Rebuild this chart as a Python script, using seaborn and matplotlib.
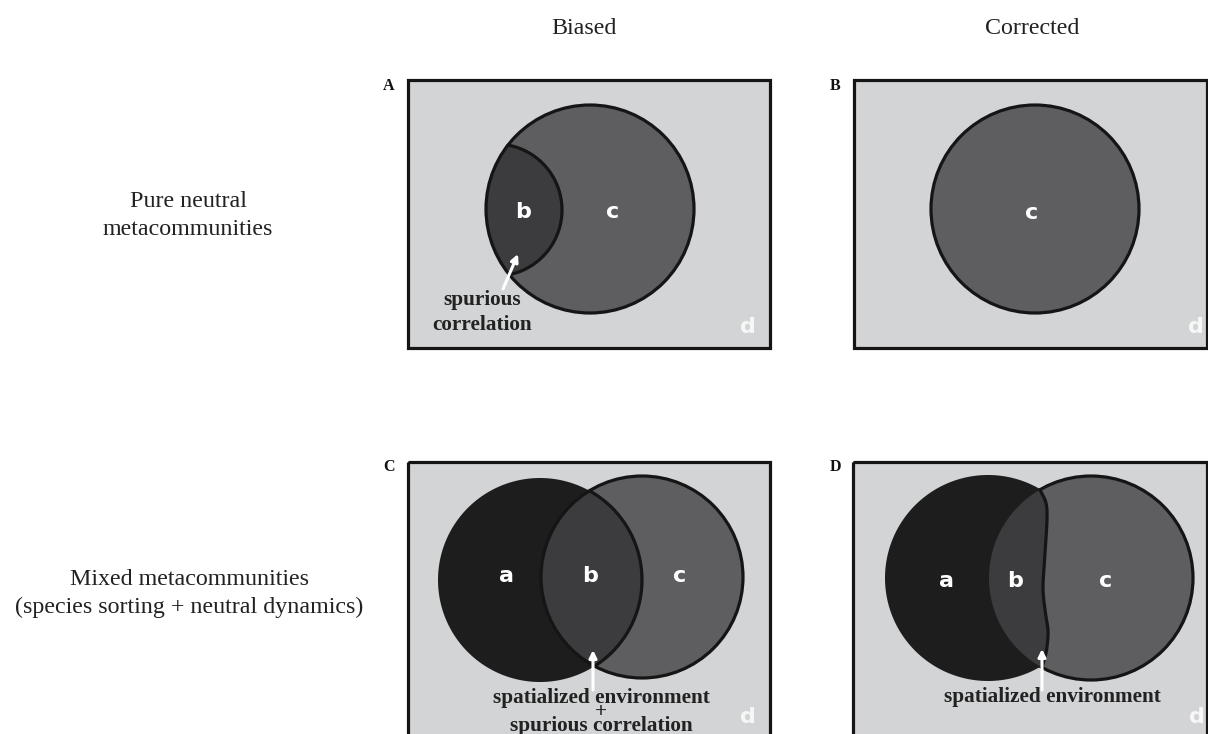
import numpy as np
import matplotlib
matplotlib.use("Agg")
import matplotlib.pyplot as plt
from matplotlib.patches import Rectangle, Polygon, Circle
import seaborn as sns

sns.set_theme(style="white")
plt.rcParams["font.family"] = ["Liberation Serif", "DejaVu Serif"]

# ---- content ----
col_titles = ["Biased", "Corrected"]
row_titles = ["Pure neutral\nmetacommunities",
              "Mixed metacommunities\n(species sorting + neutral dynamics)"]
panel_letters = ["A", "B", "C", "D"]
region_labels_A = ["b", "c", "d"]
region_labels_B = ["c", "d"]
region_labels_C = ["a", "b", "c", "d"]
region_labels_D = ["a", "b", "c", "d"]
note_A = "spurious\ncorrelation"
note_C = "spatialized environment\n+\nspurious correlation"
note_D = "spatialized environment"

# ---- styles ----
BG = "#d3d4d6"
C_COL = "#5e5e60"
B_COL = "#3c3c3e"
A_COL = "#1e1d1e"
EDGE = "#151515"
LW = 2.3

W, H = 1208, 734
fig = plt.figure(figsize=(W / 100, H / 100), dpi=100)
ax = fig.add_axes([0, 0, 1, 1])
ax.set_xlim(0, W)
ax.set_ylim(H, 0)
ax.set_axis_off()


def arc(cx, cy, r, t0, t1, n=200):
    t = np.linspace(t0, t1, n)
    return np.column_stack([cx + r * np.cos(t), cy + r * np.sin(t)])


def lens_arcs(c1, r1, c2, r2):
    (x1, y1), (x2, y2) = c1, c2
    d = np.hypot(x2 - x1, y2 - y1)
    a1 = np.arccos((d ** 2 + r1 ** 2 - r2 ** 2) / (2 * d * r1))
    a2 = np.arccos((d ** 2 + r2 ** 2 - r1 ** 2) / (2 * d * r2))
    p12 = np.arctan2(y2 - y1, x2 - x1)
    p21 = np.arctan2(y1 - y2, x1 - x2)
    arc1 = arc(x1, y1, r1, p12 - a1, p12 + a1)
    arc2 = arc(x2, y2, r2, p21 - a2, p21 + a2)
    if np.hypot(*(arc1[-1] - arc2[0])) > np.hypot(*(arc1[-1] - arc2[-1])):
        arc2 = arc2[::-1]
    return arc1, arc2


def catmull(pts, n=20):
    pts = np.asarray(pts, float)
    P = np.vstack([pts[0], pts, pts[-1]])
    out = []
    for i in range(1, len(P) - 2):
        p0, p1, p2, p3 = P[i - 1], P[i], P[i + 1], P[i + 2]
        for t in np.linspace(0, 1, n, endpoint=False):
            out.append(0.5 * ((2 * p1) + (-p0 + p2) * t
                              + (2 * p0 - 5 * p1 + 4 * p2 - p3) * t ** 2
                              + (-p0 + 3 * p1 - 3 * p2 + p3) * t ** 3))
    out.append(pts[-1])
    return np.array(out)


def panel_rect(x0, y0, x1, y1):
    ax.add_patch(Rectangle((x0, y0), x1 - x0, y1 - y0, facecolor=BG,
                           edgecolor="none", zorder=1))
    return Rectangle((x0, y0), x1 - x0, y1 - y0, facecolor="none",
                     edgecolor=EDGE, lw=LW, zorder=10)


def circle_pts(cx, cy, r):
    return arc(cx, cy, r, 0, 2 * np.pi, 400)


def fill(pts, color, z):
    ax.add_patch(Polygon(pts, closed=True, facecolor=color, edgecolor="none", zorder=z))


def outline(pts, z=6):
    ax.plot(pts[:, 0], pts[:, 1], color=EDGE, lw=LW, zorder=z, solid_capstyle="round")


def ring(c, r, z=6):
    ax.add_patch(Circle(c, r, facecolor="none", edgecolor=EDGE, lw=LW, zorder=z))


def region_text(x, y, s, color="white", size=16):
    ax.text(x, y, s, ha="center", va="center", color=color, fontsize=size,
            fontweight="bold", family="DejaVu Sans", zorder=12)


def note(x, y, s, va="top", ls=1.0):
    ax.text(x, y, s, ha="center", va=va, color="#222222", fontsize=15.3,
            fontweight="bold", zorder=12, linespacing=ls, multialignment="center")


def arrow(tail, tip):
    ax.annotate("", xy=tip, xytext=tail, zorder=13,
                arrowprops=dict(arrowstyle="-|>", color="white", lw=2.2,
                                mutation_scale=11, shrinkA=0, shrinkB=0))


D_COL = "#f7f7f7"

# ---- titles ----
for x, s in zip([584, 1032], col_titles):
    ax.text(x, 34, s, ha="center", va="baseline", fontsize=17.3, color="#222222")
for (x, y0), s in zip([(188, 207), (189, 585)], row_titles):
    for i, line in enumerate(s.split("\n")):
        ax.text(x, y0 + 28 * i, line, ha="center", va="baseline",
                fontsize=17.3, color="#222222")

# panel letters
for (x, y), s in zip([(389, 86), (835, 86), (389, 467), (835, 467)], panel_letters):
    ax.text(x, y, s, ha="center", va="center", fontsize=11.5, fontweight="bold",
            color="#111111")

# ---- Panel A ----
border = panel_rect(408, 80, 770, 348)
cA, rA = (590, 209), 104
aA, raA = (496, 210), 66
fill(circle_pts(*cA, rA), C_COL, 3)
arc_a, arc_c = lens_arcs(aA, raA, cA, rA)
fill(np.vstack([arc_a, arc_c]), B_COL, 4)
outline(arc_a)
ring(cA, rA)
ax.add_patch(border)
region_text(523, 212, region_labels_A[0])
region_text(613, 212, region_labels_A[1])
region_text(748, 327, region_labels_A[2], color=D_COL)
arrow((503, 289), (518, 254))
note(482, 290, note_A, ls=1.35)

# ---- Panel B ----
border = panel_rect(854, 80, 1207, 348)
cB, rB = (1035, 209), 104
fill(circle_pts(*cB, rB), C_COL, 3)
ring(cB, rB)
ax.add_patch(border)
region_text(1032, 213, region_labels_B[0])
region_text(1196, 327, region_labels_B[1], color=D_COL)

# ---- Panel C ----
border = panel_rect(408, 462, 770, 760)
aC, raC = (540, 580), 102
cC, rcC = (642, 577), 101
fill(circle_pts(*aC, raC), A_COL, 3)
fill(circle_pts(*cC, rcC), C_COL, 3)
arc_a, arc_c = lens_arcs(aC, raC, cC, rcC)
fill(np.vstack([arc_a, arc_c]), B_COL, 4)
ring(cC, rcC)
outline(arc_a)
ax.add_patch(border)
region_text(506, 576, region_labels_C[0])
region_text(590, 576, region_labels_C[1])
region_text(680, 576, region_labels_C[2])
region_text(748, 717, region_labels_C[3], color=D_COL)
arrow((593, 690), (593, 650))
note(601, 688, note_C, ls=0.6)

# ---- Panel D ----
border = panel_rect(853, 462, 1207, 760)
aD, raD = (988, 578), 103
cD, rcD = (1091, 578), 102
wave = catmull([(1040, 490), (1046, 503), (1047, 520), (1045, 553), (1043, 587),
                (1045, 610), (1048, 630), (1047, 647), (1045, 657), (1042, 667)])
fill(circle_pts(*cD, rcD), C_COL, 3)
ring(cD, rcD, z=4)
tb = np.arctan2(wave[-1, 1] - aD[1], wave[-1, 0] - aD[0])
tt = np.arctan2(wave[0, 1] - aD[1], wave[0, 0] - aD[0]) + 2 * np.pi
fill(np.vstack([arc(*aD, raD, tb, tt), wave]), A_COL, 5)
tb = np.arctan2(wave[-1, 1] - cD[1], wave[-1, 0] - cD[0])
tt = np.arctan2(wave[0, 1] - cD[1], wave[0, 0] - cD[0]) + 2 * np.pi
fill(np.vstack([arc(*cD, rcD, tb, tt), wave]), B_COL, 5)
outline(wave, z=7)
ax.add_patch(border)
region_text(947, 581, region_labels_D[0])
region_text(1015, 581, region_labels_D[1])
region_text(1106, 581, region_labels_D[2])
region_text(1197, 717, region_labels_D[3], color=D_COL)
arrow((1042, 690), (1042, 649))
note(1052, 702, note_D, va="baseline")

fig.savefig("out.png", dpi=100, facecolor="white")
